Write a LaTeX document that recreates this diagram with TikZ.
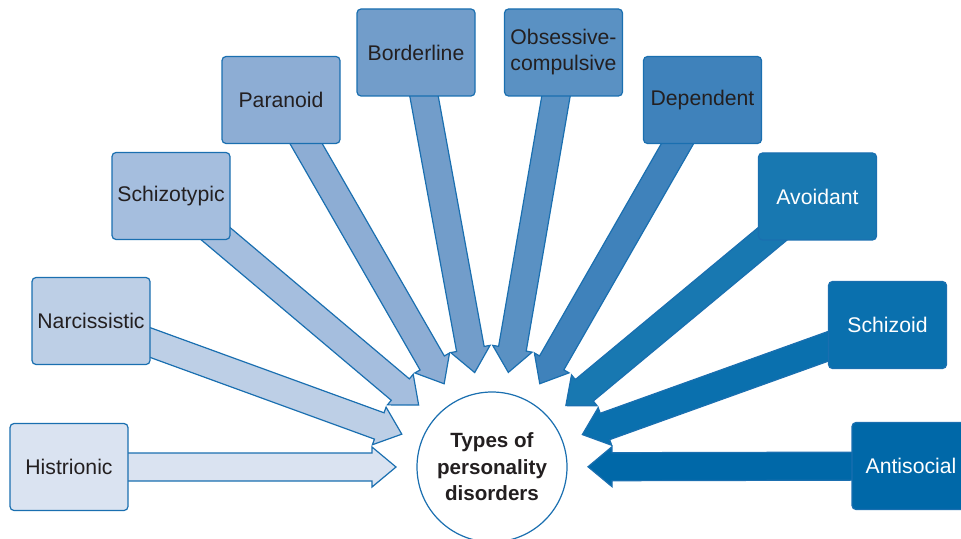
\documentclass[tikz,border=0pt]{standalone}
\usepackage{fontspec}
\setmainfont{Liberation Sans}
\usetikzlibrary{calc,backgrounds}
\definecolor{c1}{HTML}{DAE3F1}\definecolor{c2}{HTML}{BDCFE6}\definecolor{c3}{HTML}{A5BEDE}
\definecolor{c4}{HTML}{8DADD4}\definecolor{c5}{HTML}{729DCA}\definecolor{c6}{HTML}{5A91C3}
\definecolor{c7}{HTML}{3F82BB}\definecolor{c8}{HTML}{1878B1}\definecolor{c9}{HTML}{0A70AE}
\definecolor{c10}{HTML}{0068A8}\definecolor{edge}{HTML}{1A6FB0}\definecolor{ink}{HTML}{231F20}
\tikzset{bx/.style={draw=edge,line width=0.6pt,rounded corners=2pt,minimum width=59pt,minimum height=43.5pt,align=center,inner sep=1pt,font=\fontsize{10.6}{13}\selectfont},ba/.style={draw=edge,line width=0.6pt,line join=miter}}
\newcommand\blockarrow[3]{%
\coordinate(tp)at($(#3.center)!48pt!(#2.center)$);\coordinate(hb)at($(tp)!12pt!(#2.center)$);
\draw[ba,fill=#1]($(#2.center)!7pt!90:(tp)$)--($(hb)!7pt!90:(tp)$)--($(hb)!10pt!90:(tp)$)--(tp)--($(hb)!10pt!-90:(tp)$)--($(hb)!7pt!-90:(tp)$)--($(#2.center)!7pt!-90:(tp)$)--cycle;}
\begin{document}
\begin{tikzpicture}[x=0.5pt,y=-0.5pt]
\useasboundingbox(0,0)rectangle(961,539);
\node[circle,draw=edge,line width=0.6pt,fill=white,minimum size=75pt,align=center,text=ink,font=\bfseries\fontsize{10.3}{13.2}\selectfont](ty)at(492,467){Types of\\personality\\disorders};
\foreach\n/\x/\y/\t/\s in{1/69/467/Histrionic/ink,2/91/321/Narcissistic/ink,3/171/196/Schizotypic/ink,4/281/100/Paranoid/ink,5/416/52.5/Borderline/ink,6/563.5/52.5/{Obsessive-\\compulsive}/ink,7/702.5/100/Dependent/ink,8/817.5/196.5/Avoidant/white,9/887.5/325/Schizoid/white,10/911/466/Antisocial/white}
 \node[bx,fill=c\n,text=\s](b\n)at(\x,\y){\t};
\begin{pgfonlayer}{background}
\foreach\n in{1,...,10}{\blockarrow{c\n}{b\n}{ty}}
\end{pgfonlayer}
\end{tikzpicture}
\end{document}
